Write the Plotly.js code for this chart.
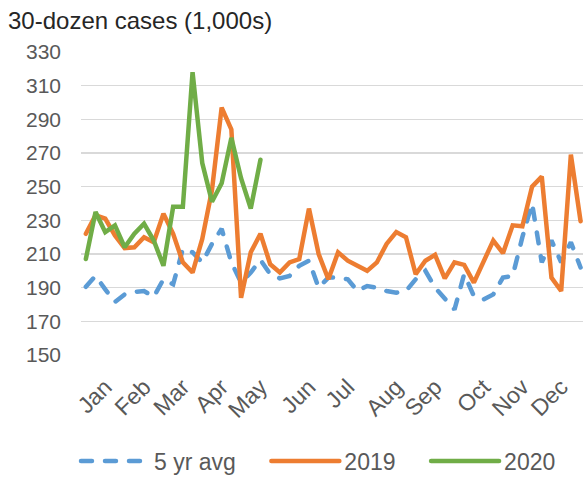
<!DOCTYPE html>
<html>
<head>
<meta charset="utf-8">
<script src="https://cdn.plot.ly/plotly-3.0.1.min.js"></script>
<style>
html,body{margin:0;padding:0;background:#fff;}
#chart{width:583px;height:483px;}
.scatterlayer path.js-line,.legendlines path.js-line{stroke-linecap:round;}
</style>
</head>
<body>
<div id="chart"></div>
<script>
// Weekly shell-egg shipments, 30-dozen cases (1,000s)
const weeks = Array.from({length: 52}, (_, i) => i + 1);

const avg5yr = [190.5,197,189,181.5,186,187.5,188,184.5,195,192,
                213,211,205,216,225,205,193,199,206.5,198,
                195.5,197,203,206,190,196,196,195,188,191,
                190,188,187,188,195,200,190,183,177,198,
                185,183,186,196,197,220,240,205,218,205,
                217,202];

const y2019 = [222,233,231,221,213.5,214,220,217,234,222,
               205,199,219,248,297,284,184,211,222,204,
               199,205,207,237,210,195,211,206,203,200,
               205,216,223,220,198,206,209.5,195.5,205,203.5,
               193,206,218,210.5,227,226.5,250,256,196,188,
               269,229.5];

const y2020 = [207,235,223,227,214,222,228,218,203,238,
               238,318,264,241,252,279,255,237,266];

const monthLabels = ['Jan','Feb','Mar','Apr','May','Jun','Jul','Aug','Sep','Oct','Nov','Dec'];
const monthWeeks  = [3,7,11,15,19,24,28,33,37,42,46,50];

const yTicks = [150,170,190,210,230,250,270,290,310,330];

const seriesNames = ['5 yr avg', '2019', '2020'];
const pad = '\u00a0\u00a0\u00a0\u00a0';

const traces = [
  {x: weeks, y: avg5yr, name: seriesNames[0] + pad, type: 'scatter', mode: 'lines',
   line: {color: '#5B9BD5', width: 4.5, dash: '11px,13px'}},
  {x: weeks, y: y2019, name: seriesNames[1] + pad, type: 'scatter', mode: 'lines',
   line: {color: '#ED7D31', width: 4.5}},
  {x: weeks.slice(0, y2020.length), y: y2020, name: seriesNames[2], type: 'scatter', mode: 'lines',
   line: {color: '#70AD47', width: 4.5}}
];

const layout = {
  width: 583, height: 483,
  margin: {l: 81, r: 0, t: 52, b: 118},
  paper_bgcolor: '#fff', plot_bgcolor: '#fff',
  font: {family: 'Liberation Sans, Arial, sans-serif', color: '#595959', size: 21},
  title: {text: '30-dozen cases (1,000s)', x: 8/583, xref: 'container', xanchor: 'left',
          y: 1 - 21/483, yref: 'container', yanchor: 'middle',
          font: {size: 24, color: '#262626', family: 'Liberation Sans, Arial, sans-serif'}},
  xaxis: {range: [0.5, 52.25], tickvals: monthWeeks, ticktext: monthLabels, tickangle: -45,
          showgrid: false, zeroline: false, showline: false, ticks: '',
          tickfont: {size: 23, color: '#595959'}, ticklabelstandoff: 13, fixedrange: true},
  yaxis: {range: [150, 330], tickvals: yTicks, showgrid: true, gridcolor: '#D9D9D9', gridwidth: 1.5,
          zeroline: false, showline: false, ticks: '', ticklabelstandoff: 19,
          tickfont: {size: 21, color: '#595959'}, fixedrange: true},
  showlegend: true,
  legend: {orientation: 'h', x: -0.01, xanchor: 'left', y: -0.35, yanchor: 'middle',
           itemwidth: 68, font: {size: 23, color: '#595959'}, traceorder: 'normal'}
};

Plotly.newPlot('chart', traces, layout, {displayModeBar: false, staticPlot: true});
</script>
</body>
</html>
